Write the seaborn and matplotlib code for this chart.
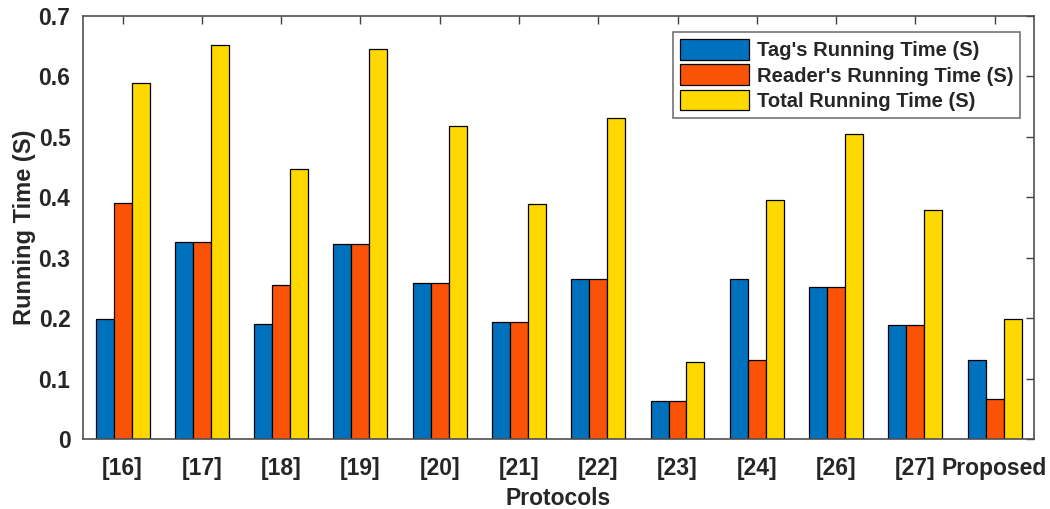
import pandas as pd
import seaborn as sns
import matplotlib.pyplot as plt

# values
protocols = ['[16]', '[17]', '[18]', '[19]', '[20]', '[21]', '[22]', '[23]', '[24]', '[26]', '[27]', 'Proposed']
tag_time = [0.199, 0.326, 0.191, 0.322, 0.258, 0.194, 0.265, 0.063, 0.265, 0.252, 0.189, 0.131]
reader_time = [0.390, 0.326, 0.255, 0.322, 0.258, 0.194, 0.265, 0.063, 0.131, 0.252, 0.189, 0.067]
total_time = [0.588, 0.652, 0.447, 0.645, 0.517, 0.389, 0.531, 0.127, 0.395, 0.505, 0.379, 0.198]
series_names = ["Tag's Running Time (S)", "Reader's Running Time (S)", "Total Running Time (S)"]
colors = ['#0072BD', '#FA5207', '#FFD800']

df = pd.DataFrame({
    'Protocols': protocols * 3,
    'Running Time (S)': tag_time + reader_time + total_time,
    'series': [s for s in series_names for _ in protocols],
})

sns.set_style('white')
plt.rcParams['font.family'] = ['Liberation Sans', 'DejaVu Sans']
plt.rcParams['font.weight'] = 'bold'

fig = plt.figure(figsize=(10.5, 5.09), dpi=100)
ax = fig.add_axes([0.079, 0.1375, 0.906, 0.8315])

sns.barplot(data=df, x='Protocols', y='Running Time (S)', hue='series',
            palette=colors, width=0.68, edgecolor='black', linewidth=0.9,
            saturation=1, ax=ax)

ax.set_xlim(-0.5, len(protocols) - 0.5)
ax.set_ylim(0, 0.7)
ax.set_yticks([0, 0.1, 0.2, 0.3, 0.4, 0.5, 0.6, 0.7])
ax.set_yticklabels(['0', '0.1', '0.2', '0.3', '0.4', '0.5', '0.6', '0.7'])
ax.tick_params(axis='both', direction='in', length=6, width=1, color='#404040',
               top=True, right=True, labelsize=16.5)
ax.tick_params(axis='x', pad=13)
ax.tick_params(axis='y', pad=9)
for lab in ax.get_xticklabels() + ax.get_yticklabels():
    lab.set_fontweight('bold')
for sp in ax.spines.values():
    sp.set_color('#505050')
    sp.set_linewidth(1.2)

ax.set_xlabel('Protocols', fontsize=16.5, fontweight='bold', labelpad=5)
ax.set_ylabel('Running Time (S)', fontsize=17, fontweight='bold', labelpad=2)

handles, labels = ax.get_legend_handles_labels()
leg = ax.legend(handles, labels, loc='upper right', fontsize=14.5, frameon=True,
                fancybox=False, edgecolor='#505050', handlelength=3.4, handleheight=1.2,
                labelspacing=0.2, borderpad=0.35, handletextpad=0.4,
                bbox_to_anchor=(0.996, 0.985))
leg.get_frame().set_linewidth(1.2)
for t in leg.get_texts():
    t.set_fontweight('bold')

fig.savefig('out.png', dpi=100)
